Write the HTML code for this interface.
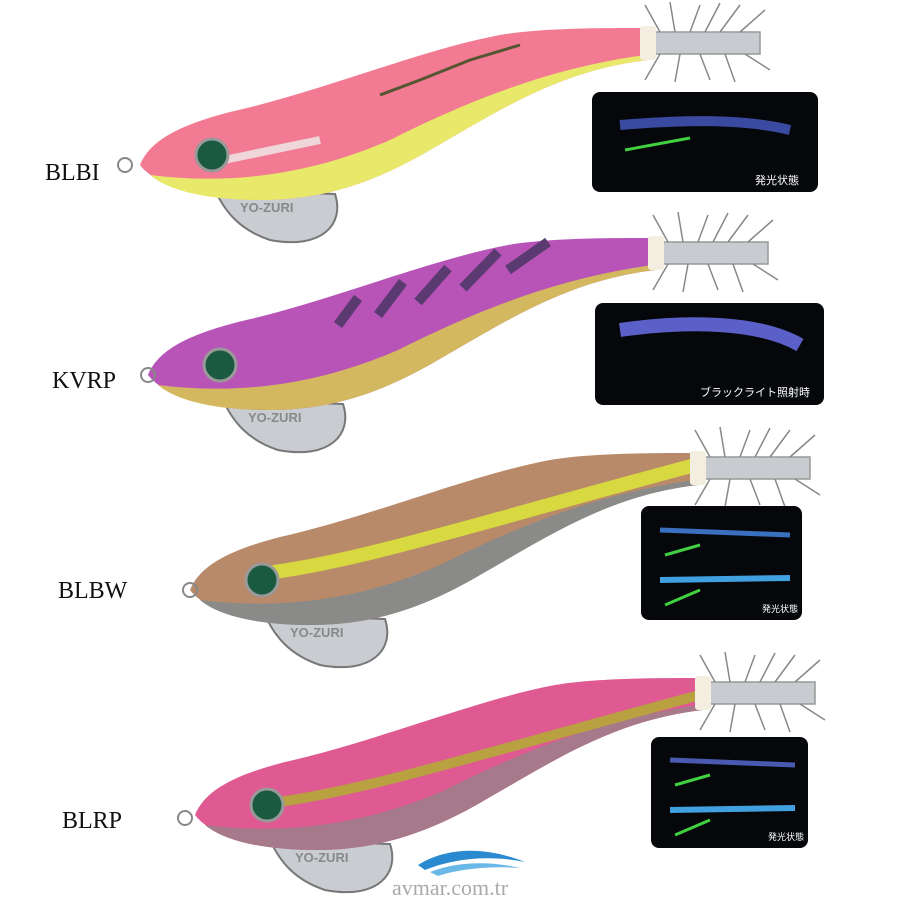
<!DOCTYPE html>
<html><head><meta charset="utf-8"><style>
body{margin:0;background:#fff;width:900px;height:900px;overflow:hidden}
svg{display:block}
.lbl{font-family:"Liberation Serif",serif;font-size:24px;fill:#111}
.jp{font-family:"Liberation Sans","Noto Sans CJK JP",sans-serif;font-size:11px;fill:#fff}
</style></head><body>
<svg width="900" height="900" viewBox="0 0 900 900" xmlns="http://www.w3.org/2000/svg">
<defs>
<g id="hooks" stroke="#888" stroke-width="1.5" fill="none">
<rect x="650" y="32" width="110" height="22" fill="#c8ccd0" stroke="#999"/>
<path d="M660 32 L645 5 M675 32 L670 2 M690 32 L700 5 M705 32 L720 3 M720 32 L740 5 M740 32 L765 10 M660 54 L645 80 M680 54 L675 82 M700 54 L710 80 M725 54 L735 82 M745 54 L770 70"/>
</g>
<g id="fin">
<path d="M215,190 L335,194 C345,224 322,250 270,240 C240,230 225,212 215,190Z" fill="#c9cdd2" stroke="#777" stroke-width="2"/>
<text x="240" y="212" font-family="Liberation Sans,sans-serif" font-size="13" font-weight="bold" fill="#888">YO-ZURI</text>
</g>
<path id="body" d="M140,165 C150,140 180,125 230,112 C320,92 420,50 500,35 C540,28 600,28 645,28 L648,60 C560,70 500,110 430,150 C370,185 320,200 260,200 C200,200 155,185 140,165 Z"/>
<path id="belly" d="M150,175 C230,185 310,175 390,140 C470,100 550,68 645,55 L648,60 C560,70 500,110 430,150 C370,185 320,200 260,200 C200,200 165,188 150,175Z"/>
</defs>

<g>
<use href="#hooks"/><use href="#fin"/>
<use href="#body" fill="#f27a92"/><use href="#belly" fill="#e8e86a"/>
<rect x="640" y="26" width="16" height="34" rx="3" fill="#f3eedf"/>
<path d="M380 95 L420 80 L470 60 L520 45" stroke="#553" stroke-width="3" fill="none"/>
<path d="M200 165 L320 140" stroke="#eee" stroke-width="8" opacity=".8"/>
<circle cx="212" cy="155" r="16" fill="#1a5a40" stroke="#999" stroke-width="3"/>
<circle cx="125" cy="165" r="7" fill="none" stroke="#888" stroke-width="2"/>
</g>
<g transform="translate(8,210)">
<use href="#hooks"/><use href="#fin"/>
<use href="#body" fill="#b854b8"/><use href="#belly" fill="#d4b860"/>
<path d="M330 115 L350 88 M370 105 L395 72 M410 92 L440 58 M455 78 L490 42 M500 60 L540 32" stroke="#5a3a70" stroke-width="10"/>
<rect x="640" y="26" width="16" height="34" rx="3" fill="#f3eedf"/>
<circle cx="212" cy="155" r="16" fill="#1a5a40" stroke="#999" stroke-width="3"/>
<circle cx="140" cy="165" r="7" fill="none" stroke="#888" stroke-width="2"/>
</g>
<g transform="translate(50,425)">
<use href="#hooks"/><use href="#fin"/>
<use href="#body" fill="#b88a6a"/><use href="#belly" fill="#8a8a88"/>
<path d="M200 150 C300 140 420 100 645 40" stroke="#d8d840" stroke-width="14" fill="none"/>
<rect x="640" y="26" width="16" height="34" rx="3" fill="#f3eedf"/>
<circle cx="212" cy="155" r="16" fill="#1a5a40" stroke="#999" stroke-width="3"/>
<circle cx="140" cy="165" r="7" fill="none" stroke="#888" stroke-width="2"/>
</g>
<g transform="translate(55,650)">
<use href="#hooks"/><use href="#fin"/>
<use href="#body" fill="#df5a92"/><use href="#belly" fill="#a67a8a"/>
<path d="M200 155 C300 145 420 105 645 45" stroke="#b9a040" stroke-width="10" fill="none"/>
<rect x="640" y="26" width="16" height="34" rx="3" fill="#f3eedf"/>
<circle cx="212" cy="155" r="16" fill="#1a5a40" stroke="#999" stroke-width="3"/>
<circle cx="130" cy="168" r="7" fill="none" stroke="#888" stroke-width="2"/>
</g>

<text class="lbl" x="45" y="180">BLBI</text>
<text class="lbl" x="52" y="388">KVRP</text>
<text class="lbl" x="58" y="598">BLBW</text>
<text class="lbl" x="62" y="828">BLRP</text>

<rect x="592" y="92" width="226" height="100" rx="8" fill="#05070a"/>
<path d="M620 125 C680 120 740 118 790 130" stroke="#3a4aa0" stroke-width="10" fill="none"/>
<path d="M625 150 L690 138" stroke="#40d040" stroke-width="3"/>
<text class="jp" x="755" y="184">発光状態</text>

<rect x="595" y="303" width="229" height="102" rx="8" fill="#05070a"/>
<path d="M620 330 C690 320 760 322 800 345" stroke="#5a60c8" stroke-width="14" fill="none"/>
<text class="jp" x="700" y="396">ブラックライト照射時</text>

<rect x="641" y="506" width="161" height="114" rx="8" fill="#05070a"/>
<path d="M660 530 L790 535" stroke="#3a70c0" stroke-width="5"/>
<path d="M660 580 L790 578" stroke="#40a0e0" stroke-width="6"/>
<path d="M665 555 L700 545 M665 605 L700 590" stroke="#40d040" stroke-width="3"/>
<text class="jp" x="762" y="612" style="font-size:9px">発光状態</text>

<rect x="651" y="737" width="157" height="111" rx="8" fill="#05070a"/>
<path d="M670 760 L795 765" stroke="#4a5ab0" stroke-width="5"/>
<path d="M670 810 L795 808" stroke="#40a0e0" stroke-width="6"/>
<path d="M675 785 L710 775 M675 835 L710 820" stroke="#40d040" stroke-width="3"/>
<text class="jp" x="768" y="840" style="font-size:9px">発光状態</text>

<path d="M418 865 C450 845 490 848 525 862 C490 855 455 858 425 870Z" fill="#2a8ad0"/>
<path d="M430 872 C460 860 495 862 520 868 C495 866 462 868 438 876Z" fill="#6ab8e8"/>
<text x="392" y="895" font-family="Liberation Serif,serif" font-size="22" fill="#aaa">avmar.com.tr</text>
</svg>
</body></html>
